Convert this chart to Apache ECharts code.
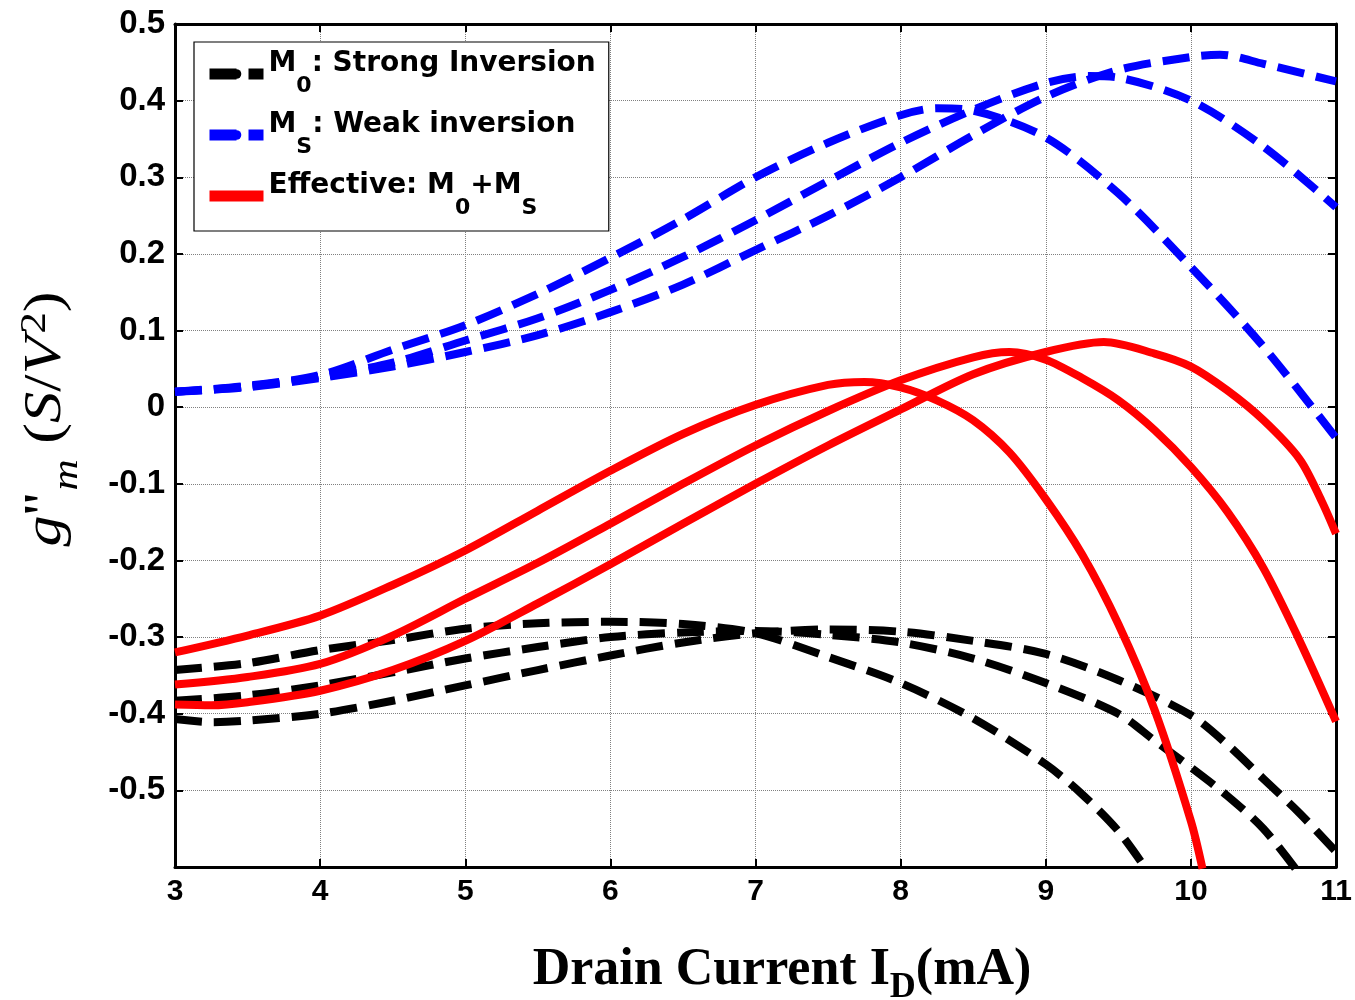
<!DOCTYPE html>
<html><head><meta charset="utf-8">
<script src="https://cdn.jsdelivr.net/npm/echarts@6/dist/echarts.min.js"></script>
<style>html,body{margin:0;padding:0;background:#fff}#c{width:1355px;height:1000px}</style>
</head><body><div id="c"></div>
<script>
// ---- data (x = drain current mA, y = g''m S/V^2) ----
const blackA = [[3,-0.343],[3.5,-0.334],[4,-0.317],[4.5,-0.304],[5,-0.289],[5.5,-0.282],[6,-0.28],[6.5,-0.283],[7,-0.295],[7.5,-0.326],[8,-0.36],[8.5,-0.406],[9,-0.466],[9.25,-0.505],[9.5,-0.553],[9.7,-0.605]];
const blackB = [[3,-0.383],[3.5,-0.376],[4,-0.363],[4.5,-0.346],[5,-0.328],[5.5,-0.313],[6,-0.30],[6.5,-0.294],[7,-0.292],[7.5,-0.297],[8,-0.307],[8.5,-0.328],[9,-0.36],[9.5,-0.40],[9.75,-0.435],[10,-0.47],[10.25,-0.507],[10.5,-0.55],[10.72,-0.602]];
const blackC = [[3,-0.407],[3.25,-0.411],[3.5,-0.409],[4,-0.40],[4.5,-0.383],[5,-0.363],[5.5,-0.343],[6,-0.324],[6.5,-0.307],[7,-0.295],[7.5,-0.29],[8,-0.293],[8.5,-0.305],[9,-0.322],[9.5,-0.356],[10,-0.402],[10.25,-0.44],[10.5,-0.485],[10.75,-0.53],[11,-0.58]];

const blueA = [[3,0.02],[3.5,0.028],[4,0.042],[4.5,0.075],[5,0.107],[5.5,0.148],[6,0.195],[6.5,0.245],[7,0.30],[7.5,0.345],[8,0.381],[8.25,0.39],[8.5,0.387],[9,0.352],[9.5,0.279],[10,0.183],[10.5,0.079],[11,-0.04]];
const blueB = [[3,0.02],[3.5,0.027],[4,0.04],[4.5,0.058],[5,0.087],[5.5,0.116],[6,0.153],[6.5,0.196],[7,0.244],[7.5,0.295],[8,0.345],[8.5,0.388],[9,0.423],[9.3,0.432],[9.5,0.43],[10,0.40],[10.5,0.34],[11,0.261]];
const blueC = [[3,0.02],[3.5,0.026],[4,0.038],[4.5,0.053],[5,0.072],[5.5,0.094],[6,0.124],[6.5,0.16],[7,0.205],[7.5,0.25],[8,0.30],[8.5,0.355],[9,0.405],[9.5,0.44],[10,0.457],[10.2,0.46],[10.5,0.448],[11,0.425]];

const redA = [[3,-0.32],[3.5,-0.298],[4,-0.272],[4.5,-0.232],[5,-0.187],[5.5,-0.135],[6,-0.083],[6.5,-0.035],[7,0.003],[7.5,0.029],[7.75,0.033],[8,0.026],[8.25,0.009],[8.5,-0.017],[8.75,-0.059],[9,-0.12],[9.25,-0.192],[9.5,-0.283],[9.75,-0.395],[10,-0.54],[10.08,-0.602]];
const redB = [[3,-0.362],[3.5,-0.352],[4,-0.335],[4.5,-0.298],[5,-0.25],[5.5,-0.203],[6,-0.152],[6.5,-0.1],[7,-0.05],[7.5,-0.005],[8,0.035],[8.5,0.065],[8.75,0.072],[9,0.062],[9.25,0.038],[9.5,0.009],[9.75,-0.03],[10,-0.078],[10.25,-0.136],[10.5,-0.21],[10.75,-0.305],[11,-0.41]];
const redC = [[3,-0.388],[3.25,-0.389],[3.5,-0.385],[4,-0.37],[4.5,-0.343],[5,-0.305],[5.5,-0.256],[6,-0.205],[6.5,-0.152],[7,-0.1],[7.5,-0.05],[8,-0.003],[8.5,0.043],[9,0.072],[9.4,0.085],[9.75,0.07],[10,0.053],[10.25,0.022],[10.5,-0.017],[10.75,-0.068],[10.9,-0.122],[11,-0.165]];

const legendNames = ['M0', 'MS', 'EFF'];
const xMin = 3, xMax = 11, xStep = 1;
const yMin = -0.6, yMax = 0.5, yStep = 0.1;

// ---- chart ----
const SANS = 'Liberation Sans, Arial, Helvetica, sans-serif';
const SERIF = 'Liberation Serif, Times New Roman, serif';
const LEG = 'DejaVu Sans, sans-serif';
const chart = echarts.init(document.getElementById('c'), null, {renderer: 'canvas'});

function mk(name, data, color, dashed, z) {
  return {
    name: name, type: 'line', data: data, smooth: 0.3, symbol: 'none', z: z,
    lineStyle: {color: color, width: 8, type: dashed ? [27, 12] : 'solid', cap: 'butt', join: 'round'},
    itemStyle: {color: color}, animation: false
  };
}
const axisLine = {show: true, onZero: false, lineStyle: {color: '#000', width: 3}};
const axisTick = {show: true, inside: true, length: 8, lineStyle: {color: '#000', width: 2}};
const split = {show: true, lineStyle: {color: '#808080', width: 1, type: 'dotted'}};

const legendText = {
  M0: '{n|M}{s|0}{n|: Strong Inversion}',
  MS: '{n|M}{s|S}{n|: Weak inversion}',
  EFF: '{n|Effective: M}{s|0}{n|+M}{s|S}'
};

chart.setOption({
  animation: false,
  backgroundColor: '#fff',
  grid: {left: 175, right: 19, top: 24, bottom: 133, containLabel: false},
  xAxis: [
    {type: 'value', min: xMin, max: xMax, interval: xStep, position: 'bottom',
     axisLine: axisLine, axisTick: axisTick, splitLine: split,
     axisLabel: {color: '#000', fontFamily: SANS, fontWeight: 'bold', fontSize: 30, margin: 10}},
    {type: 'value', min: xMin, max: xMax, interval: xStep, position: 'top',
     axisLine: axisLine, axisTick: axisTick, splitLine: {show: false}, axisLabel: {show: false}}
  ],
  yAxis: [
    {type: 'value', min: yMin, max: yMax, interval: yStep, position: 'left',
     axisLine: axisLine, axisTick: axisTick, splitLine: split,
     axisLabel: {color: '#000', fontFamily: SANS, fontWeight: 'bold', fontSize: 33, margin: 10,
       formatter: function (v) {
         if (Math.abs(v - yMin) < 1e-9) return '';
         if (Math.abs(v) < 1e-9) return '0';
         return v.toFixed(1);
       }}},
    {type: 'value', min: yMin, max: yMax, interval: yStep, position: 'right',
     axisLine: axisLine, axisTick: axisTick, splitLine: {show: false}, axisLabel: {show: false}}
  ],
  legend: {
    data: legendNames, orient: 'vertical', left: 194, top: 42,
    itemWidth: 54, itemHeight: 12, itemGap: 14, padding: [8, 13, 12, 10],
    borderColor: '#000', borderWidth: 1.2, backgroundColor: '#fff', selectedMode: false,
    lineStyle: {width: 11, cap: 'butt'},
    formatter: function (name) { return legendText[name]; },
    textStyle: {
      rich: {
        n: {fontFamily: LEG, fontWeight: 'bold', fontSize: 28, color: '#000', padding: [0, 0, 20, 0]},
        s: {fontFamily: LEG, fontWeight: 'bold', fontSize: 22, color: '#000', padding: [24, 0, 0, 0]}
      }
    }
  },
  graphic: [
    {type: 'text', x: 46, y: 419, rotation: Math.PI / 2, scaleX: 1.2, scaleY: 1.02, z: 10,
     style: {
       text: "{g|g}{p|''}{m|m}{n| (}{i|S}{n|/}{i|V}{u|2}{n|)}",
       align: 'center', verticalAlign: 'middle', fill: '#000',
       rich: {
         g: {fontFamily: SERIF, fontStyle: 'italic', fontSize: 52, fill: '#000'},
         p: {fontFamily: SERIF, fontSize: 52, fill: '#000'},
         m: {fontFamily: SERIF, fontStyle: 'italic', fontSize: 36, fill: '#000', padding: [42, 0, 0, 2]},
         n: {fontFamily: SERIF, fontSize: 52, fill: '#000'},
         i: {fontFamily: SERIF, fontStyle: 'italic', fontSize: 52, fill: '#000'},
         u: {fontFamily: SERIF, fontSize: 36, fill: '#000', padding: [0, 0, 21, 2]}
       }
     }},
    {type: 'text', x: 782, y: 971, z: 10,
     style: {
       text: '{b|Drain Current I}{d|D}{b|(mA)}',
       align: 'center', verticalAlign: 'middle', fill: '#000',
       rich: {
         b: {fontFamily: SERIF, fontWeight: 'bold', fontSize: 52, fill: '#000'},
         d: {fontFamily: SERIF, fontWeight: 'bold', fontSize: 36, fill: '#000', padding: [34, 0, 0, 0]}
       }
     }}
  ],
  series: [
    mk('M0', blackA, '#000000', true, 2),
    mk('M0', blackB, '#000000', true, 2),
    mk('M0', blackC, '#000000', true, 2),
    mk('MS', blueA, '#0000ff', true, 3),
    mk('MS', blueB, '#0000ff', true, 3),
    mk('MS', blueC, '#0000ff', true, 3),
    mk('EFF', redA, '#ff0000', false, 4),
    mk('EFF', redB, '#ff0000', false, 4),
    mk('EFF', redC, '#ff0000', false, 4)
  ]
});
</script>
</body></html>
